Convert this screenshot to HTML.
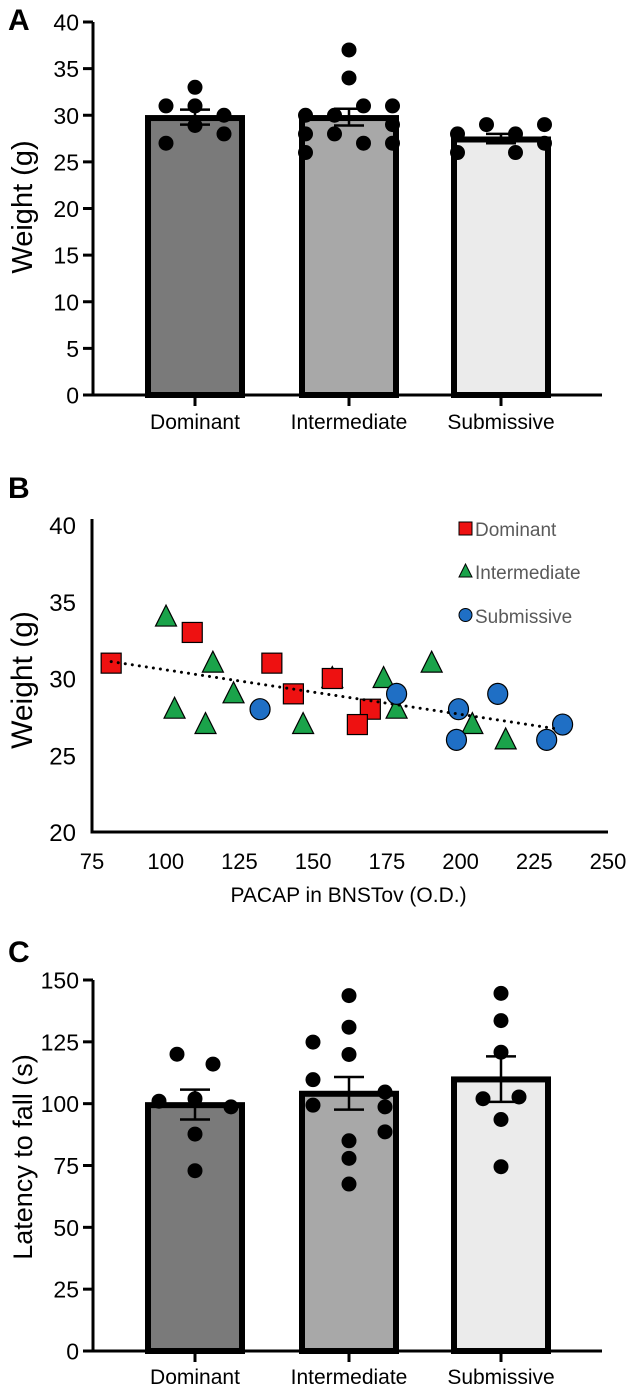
<!DOCTYPE html>
<html><head><meta charset="utf-8"><style>
html,body{margin:0;padding:0;background:#fff}
svg{display:block;font-family:"Liberation Sans",Arial,sans-serif}
</style></head><body>
<svg id="fig" width="630" height="1385" viewBox="0 0 630 1385">
<text x="8" y="30" font-size="30" font-weight="bold">A</text>
<text x="8" y="498" font-size="30" font-weight="bold">B</text>
<text x="8" y="962" font-size="30" font-weight="bold">C</text>
<g id="pa"></g>
<g id="pb"></g>
<g id="pc"></g>
</svg>
<script>
const groups = ["Dominant","Intermediate","Submissive"];
const barFills = ["#7a7a7a","#a8a8a8","#ebebeb"];
// Panel A
const aMeans = [29.7, 29.7, 27.4];
const aSemHi = [30.6, 30.7, 28.0];
const aSemLo = [29.0, 28.9, 27.0];
const aTicks = [0,5,10,15,20,25,30,35,40];
const aPoints = [
  [[-1,31],[0,33],[0,31],[0,28.9],[-1,27],[1,30],[1,28]],
  [[0,37],[0,34],[-1.5,30],[-0.5,30],[0.5,31],[1.5,31],[-1.5,28],[-0.5,28],[0.5,27],[1.5,27],[-1.5,26],[1.5,29]],
  [[-1.5,28],[-0.5,29],[0.5,28],[1.5,29],[-1.5,26],[0.5,26],[1.5,27]]
];
// Panel B
const bXTicks = [75,100,125,150,175,200,225,250];
const bYTicks = [20,25,30,35,40];
const domX = [81.5,109,136,143.3,156.5,169.4,165];
const domY = [31,33,31,29,30,28,27];
const intX = [100.1,103,116,123,113.5,146.6,156.5,173.9,178.3,190.2,204,215.3];
const intY = [34,28,31,29,27,27,30,30,28,31,27,26];
const subX = [132,178.3,199.3,198.6,212.6,229.2,234.6];
const subY = [28,29,28,26,29,26,27];
const trendX = [81.5,233.3];
const trendY = [31.1,26.7];
// Panel C
const cMeans = [99.4, 104, 109.8];
const cSemHi = [105.7, 110.8, 119.1];
const cSemLo = [93.6, 97.6, 100.7];
const cTicks = [0,25,50,75,100,125,150];
const cPoints = [
  [[-1,120],[1,116],[-2,101],[0,102],[2,98.7],[0,87.7],[0,72.9]],
  [[0,143.7],[0,130.9],[-2,124.9],[0,119.9],[-2,109.7],[2,104.7],[-2,99.4],[2,98.7],[2,88.6],[0,85],[0,77.9],[0,67.5]],
  [[0,144.6],[0,133.6],[0,120.8],[-1,102],[1,102.7],[0,93.6],[0,74.5]]
];

const NS="http://www.w3.org/2000/svg";
function mk(parent,tag,attrs){const e=document.createElementNS(NS,tag);for(const k in attrs)e.setAttribute(k,attrs[k]);parent.appendChild(e);return e;}

function barPanel(g,opts){
  const {means,hi,lo,ticks,points,y0,y1,vmax,title,titleY,titleSize,spread,labelY} = opts;
  const ax=93, axEnd=602;
  const ys=v=>y0-(v/vmax)*(y0-y1);
  const centers=[195,349,501];
  const bw=100;
  for(let i=0;i<3;i++){
    const cx=centers[i];
    const r=mk(g,'rect',{x:cx-bw/2+3,y:ys(means[i]),width:bw-6,height:y0-ys(means[i]),fill:barFills[i],stroke:'#000','stroke-width':6});
    
    
  }
  for(let i=0;i<3;i++){
    const cx=centers[i];
    points[i].forEach(p=>{
      const c=mk(g,'circle',{cx:cx+p[0]*spread,cy:ys(p[1]),r:7.5,fill:'#000'});
      
      
    });
    const e=mk(g,'path',{d:`M${cx},${ys(hi[i])}V${ys(lo[i])}M${cx-15},${ys(hi[i])}H${cx+15}M${cx-15},${ys(lo[i])}H${cx+15}`,stroke:'#000','stroke-width':2.5,fill:'none'});
    
    
  }
  const axis=mk(g,'path',{d:`M${ax},${y1}V${y0}H${axEnd}`,stroke:'#000','stroke-width':3,fill:'none'});
  
  
  ticks.forEach(t=>{
    mk(g,'line',{x1:ax-10,x2:ax,y1:ys(t),y2:ys(t),stroke:'#000','stroke-width':3});
    const tx=mk(g,'text',{x:ax-14,y:ys(t)+8.5,'font-size':23,'text-anchor':'end'});
    tx.textContent=t;
    
    
  });
  for(let i=0;i<3;i++){
    mk(g,'line',{x1:centers[i],x2:centers[i],y1:y0,y2:y0+11,stroke:'#000','stroke-width':3});
    const tx=mk(g,'text',{x:centers[i],y:labelY,'font-size':21,'text-anchor':'middle'});
    tx.textContent=groups[i];
    
    
  }
  const tt=mk(g,'text',{x:0,y:0,'font-size':titleSize,'text-anchor':'middle',transform:`translate(32,${titleY}) rotate(-90)`});
  tt.textContent=title;
  
  
}

barPanel(document.getElementById('pa'),{means:aMeans,hi:aSemHi,lo:aSemLo,ticks:aTicks,points:aPoints,y0:395,y1:22,vmax:40,title:'Weight (g)',titleY:207,titleSize:29,spread:29,labelY:429});
barPanel(document.getElementById('pc'),{means:cMeans,hi:cSemHi,lo:cSemLo,ticks:cTicks,points:cPoints,y0:1351,y1:980,vmax:150,title:'Latency to fall (s)',titleY:1157,titleSize:27,spread:18,labelY:1384});

// Panel B
(function(){
  const g=document.getElementById('pb');
  const x0=92,x1=608,y0=832,y1=525;
  const xs=v=>x0+(v-75)/(250-75)*(x1-x0);
  const ys=v=>y0-(v-20)/20*(y0-y1);
  const axis=mk(g,'path',{d:`M${x0},${y1-6}V${y0}H${x1}`,stroke:'#000','stroke-width':3,fill:'none'});
  
  
  bXTicks.forEach(t=>{
    const tx=mk(g,'text',{x:xs(t),y:869,'font-size':22,'text-anchor':'middle'});
    tx.textContent=t;
    
    
  });
  bYTicks.forEach(t=>{
    const tx=mk(g,'text',{x:76,y:ys(t)+9,'font-size':24,'text-anchor':'end'});
    tx.textContent=t;
    
    
  });
  const xt=mk(g,'text',{x:xs(162),y:902,'font-size':21,'text-anchor':'middle'});
  xt.textContent='PACAP in BNSTov (O.D.)';
  
  
  const yt=mk(g,'text',{x:0,y:0,'font-size':30,'text-anchor':'middle',transform:'translate(32,680) rotate(-90)'});
  yt.textContent='Weight (g)';
  
  
  function tri(cx,cy,s){const h=s*0.95;return `${cx},${cy-h*0.6} ${cx-s/2},${cy+h*0.45} ${cx+s/2},${cy+h*0.45}`;}
  intX.forEach((v,i)=>{
    const p=mk(g,'polygon',{points:tri(xs(v),ys(intY[i]),21),fill:'#1aa34a',stroke:'#000','stroke-width':1.2});
    
    
  });
  domX.forEach((v,i)=>{
    const p=mk(g,'rect',{x:xs(v)-10,y:ys(domY[i])-10,width:20,height:20,fill:'#ee1111',stroke:'#000','stroke-width':1.2});
    
    
  });
  subX.forEach((v,i)=>{
    const p=mk(g,'ellipse',{cx:xs(v),cy:ys(subY[i]),rx:10,ry:10.5,fill:'#1f6fc5',stroke:'#000','stroke-width':1.2});
    
    
  });
  const tl=mk(g,'line',{x1:xs(trendX[0]),y1:ys(trendY[0]),x2:xs(trendX[1]),y2:ys(trendY[1]),stroke:'#000','stroke-width':3,'stroke-dasharray':'0.1 7','stroke-linecap':'round'});
  
  
  // legend
  const lg=mk(g,'g',{});
  
  
  mk(lg,'rect',{x:459,y:522,width:13,height:13,fill:'#ee1111',stroke:'#000','stroke-width':1});
  mk(lg,'polygon',{points:'465.5,564 459,577 472,577',fill:'#1aa34a',stroke:'#000','stroke-width':1});
  mk(lg,'circle',{cx:465.5,cy:615,r:6.5,fill:'#1f6fc5',stroke:'#000','stroke-width':1});
  [['Dominant',536],['Intermediate',579],['Submissive',623]].forEach(d=>{
    const t=mk(lg,'text',{x:475,y:d[1],'font-size':19,fill:'#5a5a5a'});
    t.textContent=d[0];
    
    
  });
})();
</script>
</body></html>
